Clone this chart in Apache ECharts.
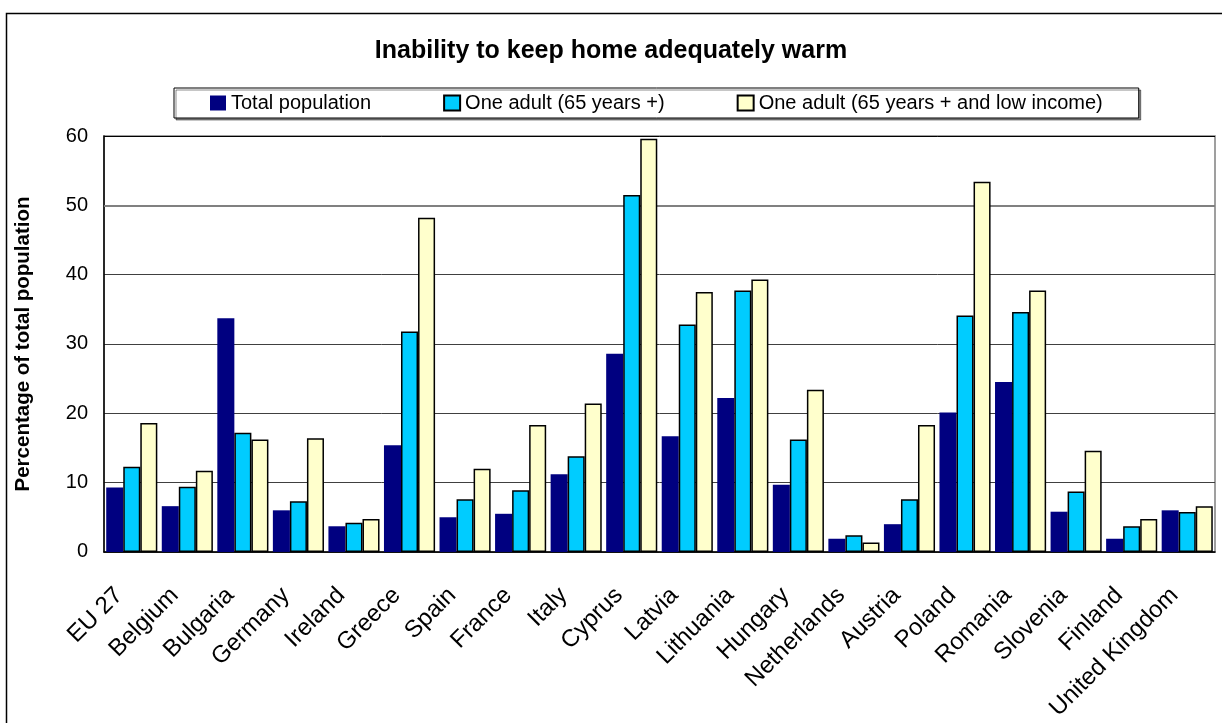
<!DOCTYPE html>
<html>
<head>
<meta charset="utf-8">
<title>Inability to keep home adequately warm</title>
<script src="https://cdn.jsdelivr.net/npm/echarts@6/dist/echarts.min.js"></script>
<style>
  html, body {margin: 0; padding: 0; background: #fff;}
  #chart {width: 1222px; height: 723px;}
</style>
</head>
<body>
<div id="chart"></div>
<script>
// values (% of population)
var categories = ['EU 27', 'Belgium', 'Bulgaria', 'Germany', 'Ireland', 'Greece', 'Spain', 'France', 'Italy', 'Cyprus',
  'Latvia', 'Lithuania', 'Hungary', 'Netherlands', 'Austria', 'Poland', 'Romania', 'Slovenia', 'Finland', 'United Kingdom'];
var totalPopulation = [9.3, 6.6, 33.7, 6.0, 3.7, 15.4, 5.0, 5.5, 11.2, 28.6, 16.7, 22.2, 9.7, 1.9, 4.0, 20.1, 24.5, 5.8, 1.9, 6.0];
var oneAdult = [12.3, 9.4, 17.2, 7.3, 4.2, 31.8, 7.6, 8.9, 13.8, 51.5, 32.8, 37.7, 16.2, 2.4, 7.6, 34.1, 34.6, 8.7, 3.7, 5.75];
var oneAdultLowIncome = [18.6, 11.7, 16.2, 16.4, 4.75, 48.2, 12.0, 18.3, 21.4, 59.6, 37.5, 39.3, 23.4, 1.35, 18.3, 53.4, 37.7, 14.6, 4.75, 6.6];
var seriesNames = ['Total population', 'One adult (65 years +)', 'One adult (65 years + and low income)'];
var yTicks = [0, 10, 20, 30, 40, 50, 60];

var font = '"Liberation Sans", Arial, sans-serif';
var myChart = echarts.init(document.getElementById('chart'));

var option = {
  backgroundColor: '#fff',
  animation: false,
  textStyle: {fontFamily: font, color: '#000'},
  title: {
    text: 'Inability to keep home adequately warm',
    left: 'center',
    top: 34,
    textStyle: {fontFamily: font, fontSize: 25, fontWeight: 'bold', color: '#000'}
  },
  legend: {
    data: seriesNames,
    left: 174,
    top: 88,
    padding: [5, 36, 5, 36],
    itemGap: 72,
    itemWidth: 16,
    itemHeight: 15,
    icon: 'rect',
    borderColor: '#000',
    borderWidth: 1,
    backgroundColor: '#fff',
    shadowColor: 'rgba(0,0,0,0.45)',
    shadowOffsetX: 2,
    shadowOffsetY: 2,
    shadowBlur: 0,
    textStyle: {fontFamily: font, fontSize: 20, color: '#000'}
  },
  grid: {
    left: 104,
    right: 7,
    top: 136,
    bottom: 170,
    show: true,
    borderColor: '#808080',
    borderWidth: 1.5
  },
  xAxis: {
    type: 'category',
    data: categories,
    axisLine: {lineStyle: {color: '#000', width: 1.5}},
    axisTick: {show: false},
    axisLabel: {
      interval: 0,
      rotate: 45,
      margin: 27,
      padding: [0, 18, 0, 0],   // slides the rotated labels a bit left like excel does
      fontFamily: font,
      fontSize: 24,
      color: '#000'
    }
  },
  yAxis: {
    type: 'value',
    min: yTicks[0],
    max: yTicks[yTicks.length - 1],
    interval: 10,
    name: 'Percentage of total population',
    nameLocation: 'middle',
    nameGap: 70,
    nameTextStyle: {fontFamily: font, fontSize: 20.5, fontWeight: 'bold', color: '#000'},
    axisLine: {show: true, lineStyle: {color: '#000', width: 1.5}},
    axisTick: {show: false},
    axisLabel: {margin: 16, fontFamily: font, fontSize: 20, color: '#000'},
    splitLine: {lineStyle: {color: ['#404040', '#404040', '#404040', '#404040', '#404040', '#808080', '#000'], width: 1}}
  },
  series: [
    {
      name: seriesNames[0],
      type: 'bar',
      data: totalPopulation,
      barGap: '0%',
      barCategoryGap: '8%',
      itemStyle: {color: '#000080'}
    },
    {
      name: seriesNames[1],
      type: 'bar',
      data: oneAdult,
      barGap: '0%',
      barCategoryGap: '8%',
      itemStyle: {color: '#00CCFF', borderColor: '#000', borderWidth: 1.5}
    },
    {
      name: seriesNames[2],
      type: 'bar',
      data: oneAdultLowIncome,
      barGap: '0%',
      barCategoryGap: '8%',
      itemStyle: {color: '#FFFFCC', borderColor: '#000', borderWidth: 1.5},
      // the 50 gridline is drawn grey and heavier in the original
      markLine: {
        silent: true,
        symbol: 'none',
        z: 1,
        label: {show: false},
        lineStyle: {color: '#808080', width: 2, type: 'solid'},
        data: [{yAxis: 50}]
      }
    }
  ],
  graphic: [
    {
      type: 'rect',
      left: 4,
      top: 11,
      shape: {width: 1300, height: 800},
      style: {fill: 'none', stroke: '#000', lineWidth: 1.5},
      silent: true
    }
  ]
};

myChart.setOption(option);
</script>
</body>
</html>
